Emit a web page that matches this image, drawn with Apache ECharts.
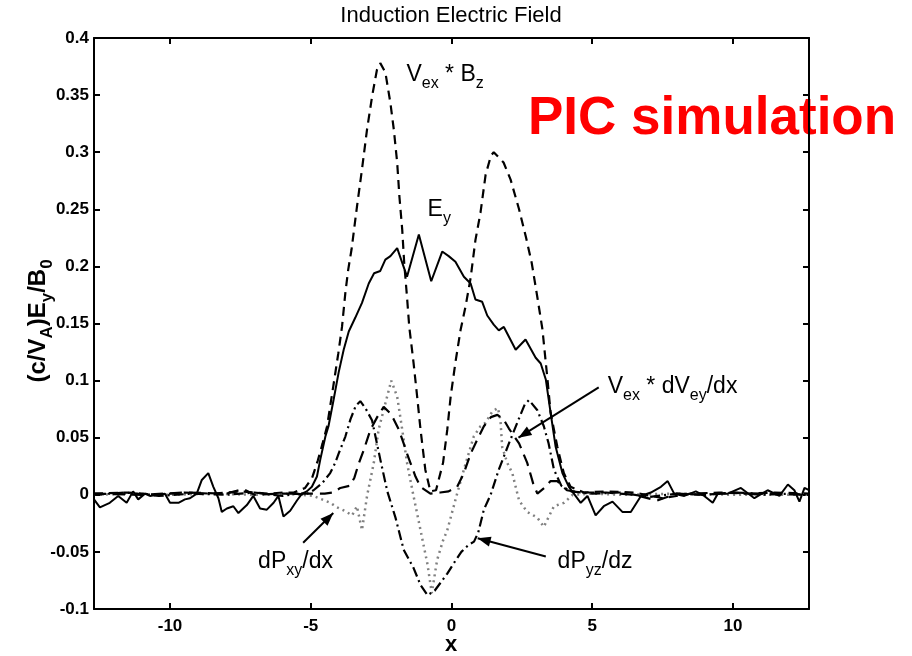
<!DOCTYPE html>
<html>
<head>
<meta charset="utf-8">
<script src="https://cdn.jsdelivr.net/npm/echarts@6/dist/echarts.min.js"></script>
<style>
  html, body { margin: 0; padding: 0; background: #fff; }
  #chart { width: 912px; height: 656px; }
</style>
</head>
<body>
<div id="chart"></div>
<script>
// Axis ticks
const xTicks = [-10, -5, 0, 5, 10];
const yTicks = [-0.1, -0.05, 0, 0.05, 0.1, 0.15, 0.2, 0.25, 0.3, 0.35, 0.4];

// E_y (solid)
const ey = [
  [-12.7,-0.004],[-12.49,-0.011],[-12.14,-0.007],[-11.84,-0.001],[-11.54,-0.007],[-11.31,0.003],
  [-11.13,-0.004],[-10.89,0.001],[-10.71,-0.001],[-10.47,0.0],[-10.18,0.001],[-10.0,-0.007],
  [-9.7,-0.007],[-9.47,-0.004],[-9.29,-0.003],[-9.05,0.001],[-8.87,0.013],[-8.64,0.019],
  [-8.46,0.007],[-8.28,-0.003],[-8.16,-0.015],[-7.98,-0.012],[-7.75,-0.01],[-7.57,-0.016],
  [-7.27,-0.009],[-7.04,-0.001],[-6.8,-0.012],[-6.56,-0.013],[-6.32,-0.007],[-6.15,-0.001],
  [-5.97,-0.019],[-5.73,-0.014],[-5.49,-0.005],[-5.31,0.001],[-5.14,0.003],[-4.96,0.007],
  [-4.78,0.016],[-4.66,0.031],[-4.48,0.051],[-4.37,0.06],[-4.19,0.083],[-4.01,0.107],
  [-3.83,0.127],[-3.65,0.143],[-3.42,0.155],[-3.18,0.168],[-2.94,0.185],[-2.75,0.194],
  [-2.53,0.196],[-2.35,0.206],[-2.17,0.209],[-1.93,0.216],[-1.58,0.191],[-1.16,0.228],
  [-0.72,0.187],[-0.33,0.213],[-0.1,0.209],[0.14,0.204],[0.44,0.191],[0.68,0.185],
  [0.85,0.171],[1.09,0.169],[1.27,0.157],[1.5,0.149],[1.68,0.144],[1.86,0.147],
  [2.28,0.127],[2.63,0.136],[2.99,0.12],[3.17,0.115],[3.35,0.101],[3.52,0.072],
  [3.7,0.042],[3.94,0.019],[4.17,0.007],[4.59,-0.007],[4.83,-0.001],[5.12,-0.018],
  [5.41,-0.01],[5.72,-0.006],[6.07,-0.015],[6.37,-0.015],[6.73,-0.001],[7.08,0.002],
  [7.44,0.007],[7.68,0.012],[7.91,0.001],[8.27,-0.001],[8.68,0.003],[8.98,-0.001],
  [9.28,-0.007],[9.46,0.001],[9.81,0.001],[10.28,0.006],[10.76,-0.003],[11.23,0.004],
  [11.65,-0.001],[11.95,0.009],[12.18,0.004],[12.36,-0.006],[12.54,0.006],[12.7,0.004]
];

// V_ex * B_z (dashed)
const vexBz = [
  [-12.7,0.001],[-11.5,0.002],[-10.5,0.0],[-9.5,0.002],[-8.5,0.001],[-7.5,0.003],[-6.5,0.001],
  [-6.0,0.002],[-5.6,0.002],[-5.2,0.006],[-4.95,0.015],[-4.75,0.03],[-4.58,0.045],[-4.42,0.06],
  [-4.2,0.095],[-4.02,0.124],[-3.89,0.147],[-3.77,0.177],[-3.67,0.197],[-3.55,0.215],
  [-3.36,0.252],[-3.18,0.285],[-3.0,0.32],[-2.82,0.349],[-2.65,0.372],[-2.53,0.378],
  [-2.35,0.37],[-2.17,0.343],[-2.05,0.32],[-1.93,0.291],[-1.85,0.261],[-1.75,0.232],
  [-1.68,0.203],[-1.58,0.173],[-1.5,0.147],[-1.35,0.116],[-1.22,0.086],[-1.1,0.057],
  [-0.93,0.022],[-0.75,0.003],[-0.55,0.004],[-0.3,0.028],[-0.15,0.057],[-0.03,0.086],
  [0.14,0.116],[0.32,0.144],[0.5,0.165],[0.68,0.19],[0.85,0.223],[1.03,0.247],[1.21,0.28],
  [1.4,0.297],[1.5,0.3],[1.85,0.291],[2.1,0.276],[2.4,0.25],[2.65,0.225],[2.85,0.203],
  [3.05,0.173],[3.23,0.145],[3.41,0.101],[3.52,0.072],[3.76,0.042],[3.99,0.019],[4.23,0.007],
  [4.7,0.002],[5.5,0.003],[6.5,0.002],[7.5,-0.003],[8.5,0.001],[9.5,0.002],[10.5,0.001],
  [11.5,0.002],[12.7,0.001]
];

// V_ex * dV_ey/dx (long dashes)
const vexDvey = [
  [-12.7,0.001],[-11.0,0.0],[-9.5,0.002],[-8.0,0.001],[-7.4,0.005],[-7.0,0.0],[-6.0,0.001],
  [-5.0,0.001],[-4.5,0.001],[-4.2,0.002],[-3.95,0.006],[-3.6,0.008],[-3.45,0.015],[-3.3,0.027],
  [-3.12,0.039],[-2.88,0.057],[-2.64,0.068],[-2.41,0.077],[-2.2,0.072],[-2.05,0.066],
  [-1.87,0.057],[-1.7,0.045],[-1.58,0.036],[-1.46,0.028],[-1.28,0.016],[-1.1,0.007],
  [-0.75,0.001],[-0.4,0.002],[-0.1,0.003],[0.2,0.007],[0.44,0.019],[0.68,0.036],[0.91,0.048],
  [1.15,0.06],[1.4,0.068],[1.63,0.07],[1.85,0.066],[2.04,0.058],[2.4,0.045],[2.69,0.028],
  [2.9,0.01],[3.05,0.001],[3.3,0.006],[3.52,0.012],[3.76,0.012],[4.1,0.004],[4.6,0.002],
  [5.5,0.002],[6.5,0.0],[7.3,-0.005],[8.0,0.001],[9.0,0.0],[10.0,0.002],[11.0,0.001],[12.7,0.0]
];

// dP_xy/dx (dotted)
const dPxy = [
  [-12.7,0.0],[-11.5,0.001],[-10.0,0.0],[-8.5,0.001],[-7.0,0.0],[-6.0,0.001],[-5.3,0.0],
  [-4.9,-0.001],[-4.6,-0.004],[-4.3,-0.007],[-4.07,-0.011],[-3.8,-0.014],[-3.53,-0.018],
  [-3.36,-0.01],[-3.18,-0.031],[-3.0,-0.001],[-2.76,0.028],[-2.59,0.057],[-2.35,0.08],
  [-2.14,0.1],[-1.93,0.086],[-1.75,0.057],[-1.58,0.028],[-1.35,-0.001],[-1.1,-0.031],
  [-0.86,-0.06],[-0.7,-0.086],[-0.51,-0.057],[-0.3,-0.04],[-0.15,-0.031],[0.2,0.001],
  [0.44,0.022],[0.79,0.051],[1.03,0.06],[1.21,0.063],[1.45,0.073],[1.65,0.076],[1.74,0.065],
  [1.8,0.042],[1.98,0.028],[2.16,0.019],[2.4,-0.005],[2.69,-0.015],[3.05,-0.02],[3.28,-0.028],
  [3.64,-0.01],[4.0,-0.007],[4.3,0.0],[5.0,0.001],[6.0,0.0],[8.0,0.001],[10.0,0.0],[12.7,0.0]
];

// dP_yz/dz (dash-dot)
const dPyz = [
  [-12.7,0.0],[-11.6,0.002],[-10.4,-0.001],[-9.2,0.001],[-8.0,0.0],[-7.0,0.002],[-6.0,-0.001],
  [-5.5,0.001],[-5.2,0.0],[-4.9,0.004],[-4.6,0.01],[-4.31,0.019],[-4.13,0.028],[-4.01,0.036],
  [-3.77,0.051],[-3.59,0.066],[-3.4,0.078],[-3.24,0.082],[-3.06,0.076],[-2.82,0.065],
  [-2.53,0.031],[-2.28,0.003],[-1.99,-0.02],[-1.7,-0.048],[-1.35,-0.064],[-1.1,-0.079],
  [-0.85,-0.088],[-0.6,-0.084],[-0.39,-0.077],[-0.15,-0.069],[0.08,-0.06],[0.35,-0.05],
  [0.6,-0.044],[0.8,-0.041],[0.95,-0.033],[1.15,-0.013],[1.39,0.0],[1.68,0.022],[2.04,0.045],
  [2.4,0.067],[2.6,0.079],[2.75,0.083],[3.05,0.074],[3.28,0.06],[3.45,0.045],[3.64,0.022],
  [3.9,0.008],[4.23,0.003],[5.0,0.001],[6.0,0.002],[7.0,-0.002],[8.0,0.001],[9.0,0.0],
  [10.0,0.002],[11.0,0.0],[12.0,0.001],[12.7,0.0]
];

// Annotation arrows: [fromX, fromY, toX, toY] in data units
const arrows = [
  [-5.27, -0.042, -4.2, -0.016],
  [3.35, -0.054, 0.93, -0.038],
  [5.23, 0.094, 2.38, 0.05]
];

// Curve labels: anchor (left x, baseline y) in data units, then text pieces [text, isSubscript]
const curveLabels = [
  { at: [-1.6, 0.361], parts: [['V', 0], ['ex', 1], [' * ', 0], ['B', 0], ['z', 1]] },
  { at: [-0.85, 0.2425], parts: [['E', 0], ['y', 1]] },
  { at: [5.55, 0.0876], parts: [['V', 0], ['ex', 1], [' * ', 0], ['dV', 0], ['ey', 1], ['/dx', 0]] },
  { at: [-6.87, -0.0657], parts: [['dP', 0], ['xy', 1], ['/dx', 0]] },
  { at: [3.77, -0.0657], parts: [['dP', 0], ['yz', 1], ['/dz', 0]] }
];

const FONT = 'Liberation Sans, Arial, Helvetica, sans-serif';
const black = '#000';

const tickLabelStyle = {
  color: black, fontSize: 17, fontWeight: 'bold', fontFamily: FONT
};

function frameAxis(position, showLabels, ticks, extra) {
  return Object.assign({
    type: 'value',
    position: position,
    axisLine: { show: true, onZero: false, lineStyle: { color: black, width: 2 } },
    axisTick: { show: true, inside: true, length: 6, customValues: ticks,
                lineStyle: { color: black, width: 2 } },
    axisLabel: showLabels
      ? Object.assign({ customValues: ticks, formatter: v => String(v) }, tickLabelStyle)
      : { show: false },
    splitLine: { show: false }
  }, extra);
}

const lineSeries = (name, data, color, width, dash) => ({
  name: name,
  type: 'line',
  data: data,
  showSymbol: false,
  symbol: 'none',
  smooth: false,
  lineStyle: { color: color, width: width, type: dash, cap: 'butt' },
  z: 2
});

const chart = echarts.init(document.getElementById('chart'), null, { renderer: 'canvas' });

chart.setOption({
  animation: false,
  backgroundColor: '#fff',
  grid: { left: 94, right: 103, top: 38, bottom: 47, containLabel: false },
  xAxis: [
    frameAxis('bottom', true, xTicks, { min: -12.7, max: 12.7, axisLabel: Object.assign(
      { customValues: xTicks, formatter: v => String(v), margin: 9 }, tickLabelStyle) }),
    frameAxis('top', false, xTicks, { min: -12.7, max: 12.7 })
  ],
  yAxis: [
    frameAxis('left', true, yTicks, { min: -0.1, max: 0.4, axisLabel: Object.assign(
      { customValues: yTicks, formatter: v => String(v), margin: 5 }, tickLabelStyle) }),
    frameAxis('right', false, yTicks, { min: -0.1, max: 0.4 })
  ],
  series: [
    lineSeries('dPxy/dx', dPxy, '#808080', 2.5, [2, 4]),
    lineSeries('dPyz/dz', dPyz, black, 2.2, [10, 4, 2, 4]),
    lineSeries('Vex*dVey/dx', vexDvey, black, 2.2, [12, 7]),
    lineSeries('Vex*Bz', vexBz, black, 2.2, [9, 6]),
    Object.assign(lineSeries('Ey', ey, black, 2, 'solid'), {
      markLine: {
        silent: true,
        animation: false,
        symbol: ['none', 'none'],
        label: { show: false },
        lineStyle: { color: black, width: 2, type: 'solid' },
        data: arrows.map(a => [{ coord: [a[0], a[1]] }, { coord: [a[2], a[3]] }])
      }
    })
  ]
});

// Text with subscripts, laid out piece by piece
const measureCtx = document.createElement('canvas').getContext('2d');
function textWidth(t, size, weight) {
  measureCtx.font = (weight || 'normal') + ' ' + size + 'px ' + FONT;
  return measureCtx.measureText(t).width;
}
function subscriptPieces(parts, size, weight, x0, baseline) {
  const out = [];
  let x = x0;
  parts.forEach(([t, sub]) => {
    const fs = sub ? Math.round(size * 0.7) : size;
    const base = sub ? baseline + size * 0.28 : baseline;
    out.push({
      type: 'text',
      x: x,
      y: base - fs * 0.35,
      silent: true,
      style: { text: t, fontSize: fs, fontFamily: FONT, fontWeight: weight || 'normal',
               fill: black, align: 'left', verticalAlign: 'middle' }
    });
    x += textWidth(t, fs, weight);
  });
  return { pieces: out, width: x - x0 };
}

const graphics = [];
const toPx = p => chart.convertToPixel({ gridIndex: 0 }, p);

curveLabels.forEach(lbl => {
  const p = toPx(lbl.at);
  graphics.push(...subscriptPieces(lbl.parts, 23, 'normal', p[0], p[1]).pieces);
});

// Arrow heads at the pointed ends
arrows.forEach(a => {
  const s = toPx([a[0], a[1]]);
  const e = toPx([a[2], a[3]]);
  const dx = e[0] - s[0], dy = e[1] - s[1];
  const len = Math.hypot(dx, dy);
  const ux = dx / len, uy = dy / len;
  const L = 13, H = 5;
  const bx = e[0] - ux * L, by = e[1] - uy * L;
  graphics.push({
    type: 'polygon', silent: true,
    shape: { points: [[e[0], e[1]], [bx - uy * H, by + ux * H], [bx + uy * H, by - ux * H]] },
    style: { fill: black }
  });
});

// Chart title
graphics.push({
  type: 'text', x: 451, y: 16, silent: true,
  style: { text: 'Induction Electric Field', fontSize: 22, fontFamily: FONT,
           fill: black, align: 'center', verticalAlign: 'middle' }
});

// Axis title x
graphics.push({
  type: 'text', x: 451, y: 645, silent: true,
  style: { text: 'x', fontSize: 22, fontWeight: 'bold', fontFamily: FONT,
           fill: black, align: 'center', verticalAlign: 'middle' }
});

// Axis title y, written bottom-to-top
const yParts = [['(c/V', 0], ['A', 1], [')E', 0], ['y', 1], ['/B', 0], ['0', 1]];
const yLab = subscriptPieces(yParts, 24, 'bold', 0, 0);
yLab.pieces.forEach(pc => { pc.x -= yLab.width / 2; });
graphics.push({
  type: 'group', x: 47, y: 321, rotation: Math.PI / 2, silent: true,
  children: yLab.pieces
});

// Overlay caption
graphics.push({
  type: 'text', x: 528, y: 138 - 53 * 0.35, silent: true,
  style: { text: 'PIC simulation', fontSize: 53, fontWeight: 'bold', fontFamily: FONT,
           fill: '#ff0000', align: 'left', verticalAlign: 'middle' }
});

chart.setOption({ graphic: graphics });
</script>
</body>
</html>
